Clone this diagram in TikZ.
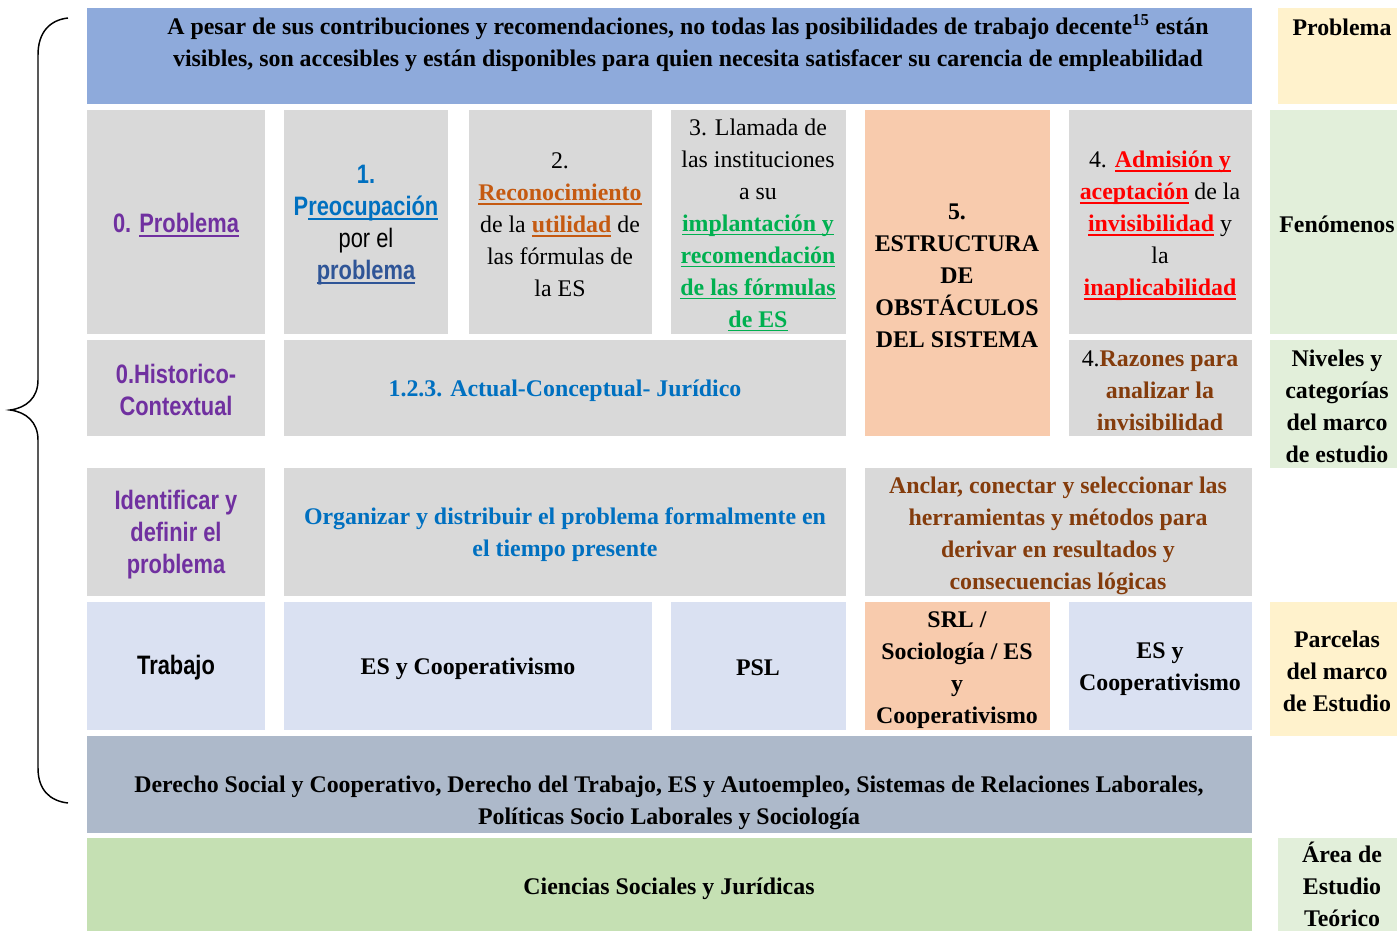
\documentclass[tikz,border=0pt]{standalone}
\usepackage{fontspec}
\setmainfont{Liberation Serif}
\newfontfamily\narrowsans[FakeStretch=0.82]{Liberation Sans}

\newsavebox\ulnbox
\newcommand\uln[1]{\sbox\ulnbox{#1}\rlap{\rule[-0.16em]{\wd\ulnbox}{1.1pt}}\usebox\ulnbox}

\definecolor{topblue}{RGB}{142,170,219}
\definecolor{cellgray}{RGB}{217,217,217}
\definecolor{cellorange}{RGB}{248,203,173}
\definecolor{celllight}{RGB}{218,225,242}
\definecolor{cellslate}{RGB}{173,185,202}
\definecolor{cellgreen}{RGB}{197,224,179}
\definecolor{tagyellow}{RGB}{255,242,204}
\definecolor{taggreen}{RGB}{226,239,218}
\definecolor{txtpurple}{RGB}{112,48,160}
\definecolor{txtblue}{RGB}{0,112,192}
\definecolor{txtnavy}{RGB}{47,85,151}
\definecolor{txtorange}{RGB}{197,90,17}
\definecolor{txtgreen}{RGB}{0,176,80}
\definecolor{txtred}{RGB}{255,0,0}
\definecolor{txtbrown}{RGB}{132,60,12}

\tikzset{
  box/.style={draw opacity=0},
  tbf/.style={align=center, inner sep=0.75pt, font=\fontsize{17.9}{24}\selectfont\bfseries},
  trm/.style={align=center, inner sep=0.75pt, font=\fontsize{17.9}{24}\selectfont},
  tsf/.style={align=center, inner sep=0.75pt, font=\narrowsans\fontsize{20}{24}\selectfont\bfseries},
}

\begin{document}
\begin{tikzpicture}[x=0.75pt,y=0.75pt,yscale=-1,xscale=1]
\useasboundingbox (0,0) rectangle (1397,931);

%Shape: Brace
\draw [line width=1.1]  (68,18) .. controls (50,20) and (38,32) .. (38,55) -- (38,380) .. controls (38,398) and (26,408) .. (10,410) .. controls (26,412) and (38,422) .. (38,440) -- (38,768) .. controls (38,790) and (50,801) .. (68,803) ;

%Shape: Rectangle (problema)
\draw [box][fill=topblue] (87,8) rectangle (1252,104) ;
\draw [box][fill=tagyellow] (1278,8) rectangle (1397,104) ;

%Shape: Rectangle (fenomenos)
\draw [box][fill=cellgray] (87,110) rectangle (265,334) ;
\draw [box][fill=cellgray] (284,110) rectangle (448,334) ;
\draw [box][fill=cellgray] (469,110) rectangle (652,334) ;
\draw [box][fill=cellgray] (671,110) rectangle (846,334) ;
\draw [box][fill=cellorange] (865,110) rectangle (1050,436) ;
\draw [box][fill=cellgray] (1069,110) rectangle (1252,334) ;
\draw [box][fill=taggreen] (1270,110) rectangle (1397,334) ;

%Shape: Rectangle (niveles)
\draw [box][fill=cellgray] (87,340) rectangle (265,436) ;
\draw [box][fill=cellgray] (284,340) rectangle (846,436) ;
\draw [box][fill=cellgray] (1069,340) rectangle (1252,436) ;
\draw [box][fill=taggreen] (1270,340) rectangle (1397,468) ;
\draw [box][fill=cellgray] (87,468) rectangle (265,596) ;
\draw [box][fill=cellgray] (284,468) rectangle (846,596) ;
\draw [box][fill=cellgray] (865,468) rectangle (1252,596) ;

%Shape: Rectangle (parcelas)
\draw [box][fill=celllight] (87,602) rectangle (265,730) ;
\draw [box][fill=celllight] (284,602) rectangle (652,730) ;
\draw [box][fill=celllight] (671,602) rectangle (846,730) ;
\draw [box][fill=cellorange] (865,602) rectangle (1050,730) ;
\draw [box][fill=celllight] (1069,602) rectangle (1252,730) ;
\draw [box][fill=tagyellow] (1270,602) rectangle (1397,736) ;

%Shape: Rectangle (areas)
\draw [box][fill=cellslate] (87,736) rectangle (1252,833) ;
\draw [box][fill=cellgreen] (87,838) rectangle (1252,931) ;
\draw [box][fill=taggreen] (1278,838) rectangle (1397,931) ;

% Text Node
\node [tbf] (problem) at (688,43) {A pesar de sus contribuciones y recomendaciones, no todas las posibilidades de trabajo decente\textsuperscript{15} están\\visibles, son accesibles y están disponibles para quien necesita satisfacer su carencia de empleabilidad};
% Text Node
\node [tbf] (tagproblem) at (1342,27) {Problema};

% Text Node
\node [tsf, txtpurple] (cero) at (176,225) {0. \uln{Problema}};
% Text Node
\node [tsf, txtblue] (uno) at (366,225) {1.\\P\uln{reocupación}\\{\mdseries\color{black}por el}\\{\color{txtnavy}\uln{problema}}};
% Text Node
\node [trm] (dos) at (560,225) {2.\\{\bfseries\color{txtorange}\uln{Reconocimiento}}\\de la {\bfseries\color{txtorange}\uln{utilidad}} de\\las fórmulas de\\la ES};
% Text Node
\node [trm] (tres) at (758,225) {3. Llamada de\\las instituciones\\a su\\{\bfseries\color{txtgreen}\uln{implantación y}}\\{\bfseries\color{txtgreen}\uln{recomendación}}\\{\bfseries\color{txtgreen}\uln{de las fórmulas}}\\{\bfseries\color{txtgreen}\uln{de ES}}};
% Text Node
\node [tbf] (cinco) at (957,276) {5.\\ESTRUCTURA\\DE\\OBSTÁCULOS\\DEL SISTEMA};
% Text Node
\node [trm] (cuatro) at (1160,226) {4. {\bfseries\color{txtred}\uln{Admisión y}}\\{\bfseries\color{txtred}\uln{aceptación}} de la\\{\bfseries\color{txtred}\uln{invisibilidad}} y\\la\\{\bfseries\color{txtred}\uln{inaplicabilidad}}};
% Text Node
\node [tbf] (tagfenom) at (1337,224) {Fenómenos};

% Text Node
\node [tsf, txtpurple] (historico) at (176,390) {0.Historico-\\Contextual};
% Text Node
\node [tbf, txtblue] (actual) at (565,391) {1.2.3. Actual-Conceptual- Jurídico};
% Text Node
\node [tbf, txtbrown] (razones) at (1160,391) {{\mdseries\color{black}4.}Razones para\\analizar la\\invisibilidad};
% Text Node
\node [tbf] (tagniveles) at (1337,406) {Niveles y\\categorías\\del marco\\de estudio};

% Text Node
\node [tsf, txtpurple] (identificar) at (176,535) {Identificar y\\definir el\\problema};
% Text Node
\node [tbf, txtblue] (organizar) at (565,535) {Organizar y distribuir el problema formalmente en\\el tiempo presente};
% Text Node
\node [tbf, txtbrown] (anclar) at (1058,536) {Anclar, conectar y seleccionar las\\herramientas y métodos para\\derivar en resultados y\\consecuencias lógicas};

% Text Node
\node [tsf] (trabajo) at (176,668) {Trabajo};
% Text Node
\node [tbf] (escoop) at (468,669) {ES y Cooperativismo};
% Text Node
\node [tbf] (psl) at (758,668) {PSL};
% Text Node
\node [tbf] (srl) at (957,670) {SRL /\\Sociología / ES\\y\\Cooperativismo};
% Text Node
\node [tbf] (escoopb) at (1160,669) {ES y\\Cooperativismo};
% Text Node
\node [tbf] (tagparcelas) at (1337,671) {Parcelas\\del marco\\de Estudio};

% Text Node
\node [tbf] (derecho) at (669,803) {Derecho Social y Cooperativo, Derecho del Trabajo, ES y Autoempleo, Sistemas de Relaciones Laborales,\\Políticas Socio Laborales y Sociología};
% Text Node
\node [tbf] (ciencias) at (669,889) {Ciencias Sociales y Jurídicas};
% Text Node
\node [tbf] (tagarea) at (1342,884) {Área de\\Estudio\\Teórico};

\end{tikzpicture}
\end{document}
